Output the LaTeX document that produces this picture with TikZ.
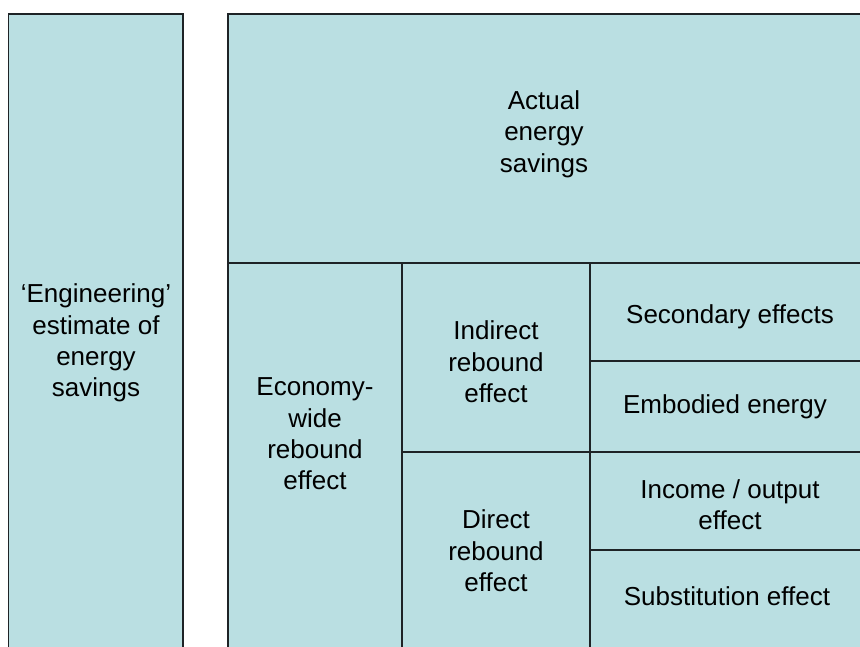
\documentclass[tikz,border=0pt]{standalone}
\usepackage{fontspec}
\setmainfont{Liberation Sans}
\definecolor{cellblue}{RGB}{186,223,226}
\definecolor{rule}{RGB}{30,35,38}
\tikzset{
	cell/.style={fill=cellblue, draw=rule, line width=1.1pt},
	sep/.style={draw=rule, line width=0.9pt},
	txt/.style={align=center, font=\fontsize{19.5}{23.5}\selectfont, inner sep=0pt}
}
\begin{document}
\begin{tikzpicture}[x=0.75pt, y=-0.75pt]
		\useasboundingbox (0,0) rectangle (860,646);
		\clip (0,0) rectangle (860,646);
		% the two columns
		\draw[cell] (8.5,14) rectangle (183,700);
		\draw[cell] (228,14) rectangle (900,700);
		% inner partitions
		\draw[sep] (228,263) -- (900,263);
		\foreach \x in {402,590}
			\draw[sep] (\x,263) -- (\x,700);
		\draw[sep] (402,452) -- (900,452);
		\foreach \y in {361,550}
			\draw[sep] (590,\y) -- (900,\y);
		% labels
		\node[txt] (engineering) at (96,343) {`Engineering'\\estimate of\\energy\\savings};
		\node[txt] (actual) at (544,134) {Actual\\energy\\savings};
		\node[txt] (economy) at (315,434) {Economy-\\wide\\rebound\\effect};
		\node[txt] (indirect) at (496,362) {Indirect\\rebound\\effect};
		\node[txt] (direct) at (496,551) {Direct\\rebound\\effect};
		\node[txt] (secondary) at (730,317) {Secondary effects};
		\node[txt] (embodied) at (725,407) {Embodied energy};
		\node[txt] (income) at (730,505) {Income / output\\effect};
		\node[txt] (substitution) at (727,596) {Substitution effect};
	\end{tikzpicture}
\end{document}
